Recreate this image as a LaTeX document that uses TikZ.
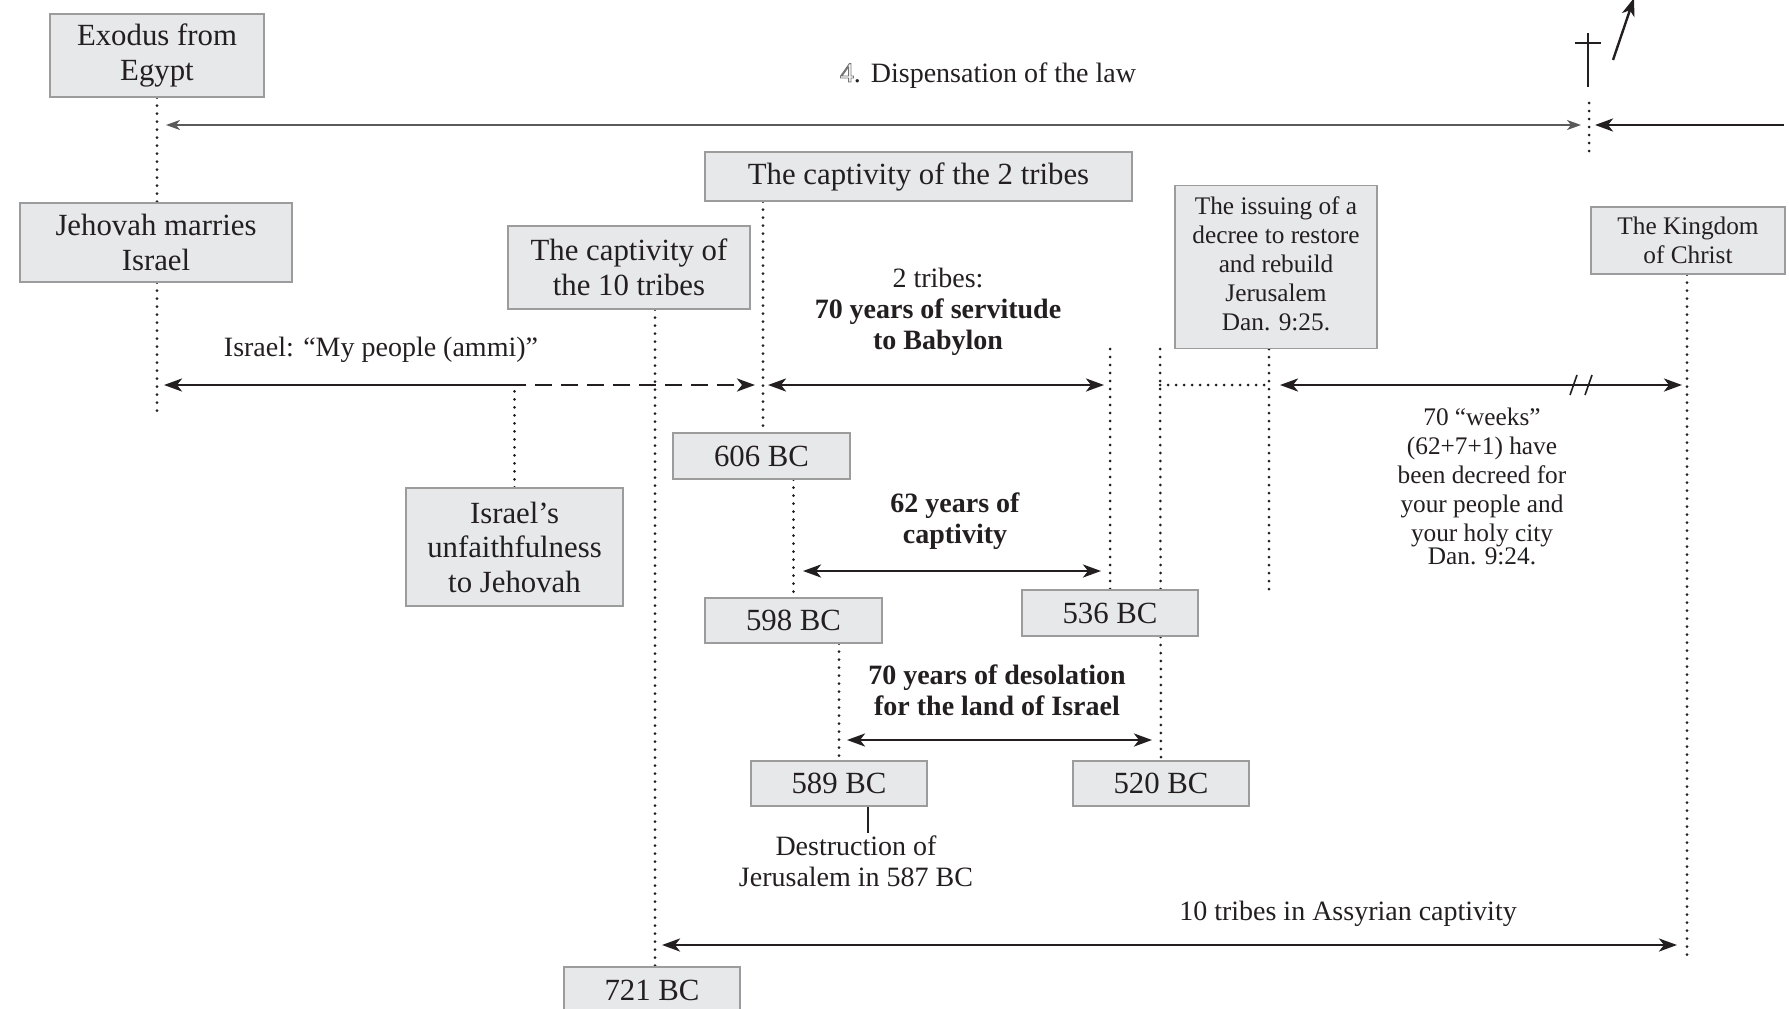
\documentclass[tikz,border=0pt]{standalone}
\usepackage{fontspec}
\setmainfont{Liberation Serif}
\usetikzlibrary{arrows.meta,backgrounds}
\definecolor{boxfill}{HTML}{E7E8EA}
\definecolor{boxline}{HTML}{9C9C9C}
\definecolor{ink}{HTML}{231F20}
\definecolor{thinline}{HTML}{5A5A5A}
\newcommand\bxfont{\fontsize{30.8}{34.5}\selectfont}
\newcommand\lbfont{\fontsize{28}{31}\selectfont}
\newcommand\bdfont{\fontsize{28}{31}\selectfont\bfseries}
\newcommand\smfont{\fontsize{25.3}{29}\selectfont}
\newcommand\outl[1]{{\color{black!55}\special{pdf:literal direct 1 Tr 0.9 w}#1\special{pdf:literal direct 0 Tr}}}
\begin{document}
\begin{tikzpicture}[x=1pt,y=-1pt,
  evbox/.style={draw=boxline,line width=1.4pt,fill=boxfill,inner sep=0pt,align=center,text=ink,font=\bxfont},
  smbox/.style={evbox,font=\smfont},
  lab/.style={inner sep=0pt,align=center,text=ink,font=\lbfont},
  dotl/.style={line width=3pt,dash pattern=on 0pt off 8pt,line cap=round,draw=ink},
  bigarr/.style={line width=2.8pt,draw=ink,>={Stealth[length=18pt,width=13pt,inset=5pt]}},
  thinarr/.style={line width=1.7pt,draw=thinline,>={Stealth[length=14pt,width=10pt,inset=4pt]}},
  dashedarr/.style={bigarr,dash pattern=on 17pt off 9pt},
  solidln/.style={line width=2pt,draw=ink}]
\useasboundingbox (0,0) rectangle (1789,1009);

% boxes
\node[evbox,minimum width=214pt,minimum height=83pt] (exodus) at (157,55.5) {Exodus from\\Egypt};
\node[evbox,minimum width=272pt,minimum height=79pt] (jehovah) at (156,242.5) {Jehovah marries\\Israel};
\node[evbox,minimum width=242pt,minimum height=83pt] (ten) at (629,267.5) {The captivity of\\the 10 tribes};
\node[evbox,minimum width=427pt,minimum height=49pt] (two) at (918.5,176.5) {The captivity of the 2 tribes};
\node[evbox,minimum width=217pt,minimum height=118pt] (unfaith) at (514.5,547) {Israel’s\\unfaithfulness\\to Jehovah};
\node[smbox,minimum width=202pt,minimum height=163pt] (issue) at (1276,267) {The issuing of a\\decree to restore\\and rebuild\\Jerusalem\\Dan. 9:25.\\[-21.5pt]};
\node[smbox,minimum width=194pt,minimum height=67pt] (kingdom) at (1688,240.5) {The Kingdom\\of Christ};
\node[evbox,minimum width=177pt,minimum height=46pt] (b606) at (761.5,456) {606 BC};
\node[evbox,minimum width=177pt,minimum height=45pt] (b598) at (793.5,620.5) {598 BC};
\node[evbox,minimum width=176pt,minimum height=46pt] (b536) at (1110,613) {536 BC};
\node[evbox,minimum width=176pt,minimum height=45pt] (b589) at (839,783.5) {589 BC};
\node[evbox,minimum width=176pt,minimum height=45pt] (b520) at (1161,783.5) {520 BC};
\node[evbox,minimum width=176pt,minimum height=46pt] (b721) at (652,990) {721 BC};

% labels
\node[lab,anchor=base] (disp) at (988,82) {\outl{4}.\hspace{10pt}Dispensation of the law};
\node[lab,anchor=base] (ammi) at (381,356) {Israel: “My people (ammi)”};
\node[lab] (serv) at (938,312) {2 tribes:\\\textbf{70 years of servitude}\\\textbf{to Babylon}};
\node[lab,font=\bdfont] (cap62) at (955,521) {62 years of\\captivity};
\node[lab,font=\bdfont] (desol) at (997,690) {70 years of desolation\\for the land of Israel};
\node[lab] (destr) at (856,861) {Destruction of\\Jerusalem in 587 BC};
\node[lab,anchor=base] (assyr) at (1348,920) {10 tribes in Assyrian captivity};
\node[lab,font=\smfont] (weeks) at (1482,486) {70 “weeks”\\(62+7+1) have\\been decreed for\\your people and\\your holy city\\[-6pt]Dan. 9:24.};

% free-end coordinates
\coordinate (jehend) at (157,415);
\coordinate (crosstop) at (1589,103);
\coordinate (crossbot) at (1589,158);
\coordinate (t536) at (1110,349);
\coordinate (t520) at (1160,349);
\coordinate (h1) at (1160,385);
\coordinate (h2) at (1269,385);
\coordinate (kend) at (1687,957);
\coordinate (tenx) at (655,0);
\coordinate (twox) at (763,0);
\coordinate (destx) at (868,833);
\coordinate (topL) at (166,125);
\coordinate (topR) at (1581,125);
\coordinate (rightS) at (1784,125);
\coordinate (rightE) at (1595,125);
\coordinate (amL) at (164,385);
\coordinate (amM) at (509,385);
\coordinate (amR) at (755,385);
\coordinate (svL) at (768,385);
\coordinate (svR) at (1104,385);
\coordinate (wkL) at (1280,385);
\coordinate (wkR) at (1682,385);
\coordinate (c62L) at (803,571);
\coordinate (c62R) at (1101,571);
\coordinate (dsL) at (847,740);
\coordinate (dsR) at (1152,740);
\coordinate (asL) at (662,945);
\coordinate (asR) at (1677,945);
\coordinate (upS) at (1613,60);
\coordinate (upE) at (1634,-2);

\begin{scope}[on background layer]
% dotted guide lines
\draw[dotl] (exodus.south) -- (exodus.south |- jehovah.north);
\draw[dotl] (jehovah.south -| jehend) -- (jehend);
\draw[dotl] (unfaith.north) -- (unfaith.north |- amM);
\draw[dotl] (ten.south -| tenx) -- (b721.north -| tenx);
\draw[dotl] (two.south -| twox) -- (b606.north -| twox);
\draw[dotl] (b606.south -| b598.north) -- (b598.north);
\draw[dotl] (b598.south -| b589.north) -- (b589.north);
\draw[dotl] (t536) -- (b536.north);
\draw[dotl] (t520) -- (b520.north);
\draw[dotl] (h1) -- (h2);
\draw[dotl] (issue.south -| h2) -- (b536.north -| h2);
\draw[dotl] (kingdom.south -| kend) -- (kend);
\draw[dotl] (crosstop) -- (crossbot);
\end{scope}

% arrows
\draw[thinarr,<->] (topL) -- (topR);
\draw[bigarr,->] (rightS) -- (rightE);
\draw[bigarr,->] (amM) -- (amL);
\draw[dashedarr,->] (amM) -- (amR);
\draw[bigarr,<->] (svL) -- (svR);
\draw[bigarr,<->] (wkL) -- (wkR);
\draw[line width=1.6pt,draw=ink] (1570,395) -- (1577,375) (1585,395) -- (1592,375);
\draw[bigarr,<->] (c62L) -- (c62R);
\draw[bigarr,<->] (dsL) -- (dsR);
\draw[bigarr,<->] (asL) -- (asR);
\draw[solidln] (b589.south -| destx) -- (destx);
% cross and ascending arrow
\draw[line width=1.6pt,draw=ink] (1588,33) -- (1588,87) (1575,43) -- (1601,43);
\draw[bigarr,->,line width=2.4pt] (upS) -- (upE);
\end{tikzpicture}
\end{document}
